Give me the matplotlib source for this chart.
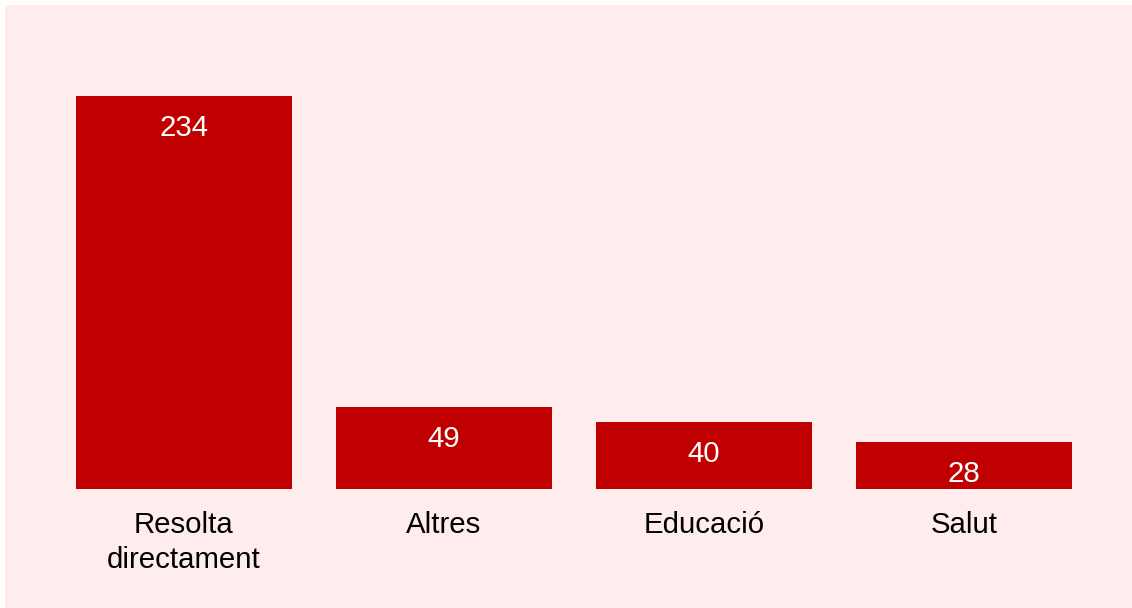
import matplotlib
matplotlib.use('Agg')
import matplotlib.pyplot as plt
from matplotlib.patches import Rectangle

categories = ['Resolta\ndirectament', 'Altres', 'Educació', 'Salut']
values = [234, 49, 40, 28]

bar_color = '#C00000'
bg_color = '#FFEDED'

plt.rcParams['font.family'] = ['Liberation Sans', 'DejaVu Sans']

W, H = 1132, 608
fig = plt.figure(figsize=(W/100, H/100), dpi=100)
fig.patch.set_facecolor('white')
# pink panel (leaves a thin white strip top and left)
fig.patches.append(Rectangle((5/W, 0), 1 - 5/W, 1 - 5/H, transform=fig.transFigure,
                             facecolor=bg_color, edgecolor='none', zorder=-10))

ax = fig.add_axes([54/W, (H-489)/H, 1040/W, 436.8/H])
ax.set_facecolor('none')
x = range(len(categories))
bars = ax.bar(x, values, width=0.83, color=bar_color)
ax.set_xlim(-0.5, len(categories) - 0.5)
ax.set_ylim(0, 260)

for xi, v in zip(x, values):
    ax.annotate(str(v), (xi, v), xytext=(0, -32), textcoords='offset pixels',
                ha='center', va='center', color='white', fontsize=21.2)

ax.set_xticks(list(x))
ax.set_xticklabels(categories, fontsize=21.2, linespacing=1.32)
ax.tick_params(axis='x', length=0, pad=16)
ax.set_yticks([])
for s in ax.spines.values():
    s.set_visible(False)

fig.savefig('out.png', dpi=100, facecolor=fig.get_facecolor())
